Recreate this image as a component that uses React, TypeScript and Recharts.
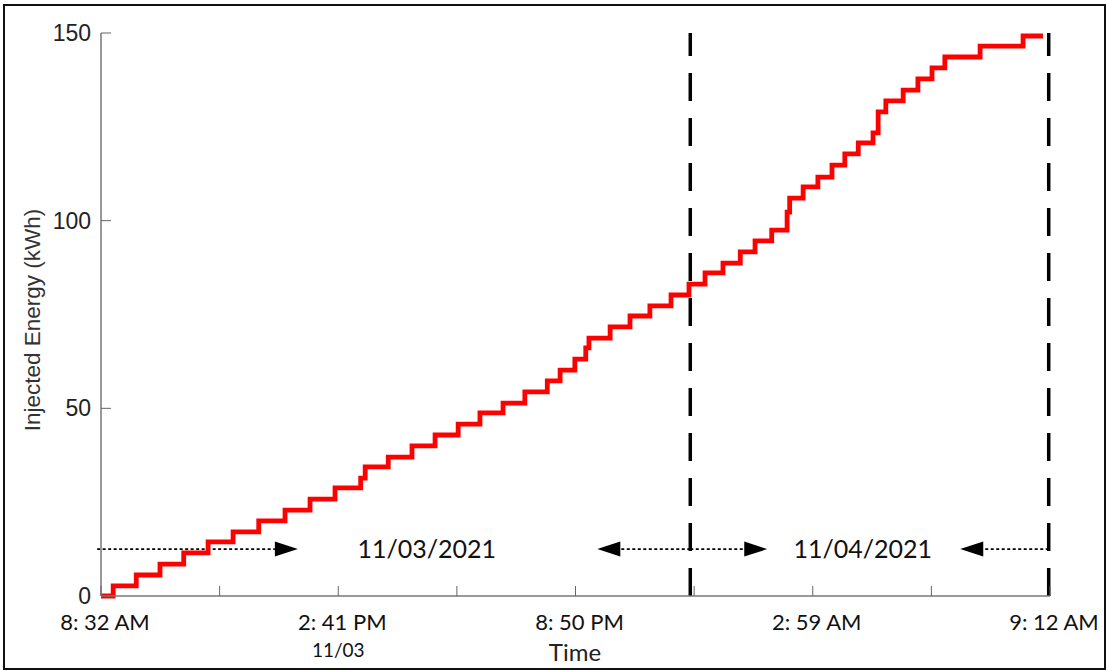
import { LineChart, Line, XAxis, YAxis, ReferenceLine, ReferenceDot } from 'recharts'

// minutes since 8:32 AM, 11/03/2021, at which the cumulative energy steps up
const stepMinutes = [
  0, 19, 55, 92, 129, 167, 206, 246, 287, 326, 365, 405, 412, 448, 485, 521, 557, 591, 627, 661,
  696, 716, 739, 756, 761, 794, 825, 856, 889, 917, 942, 970, 997, 1020, 1046, 1070, 1074, 1095,
  1118, 1140, 1160, 1181, 1204, 1212, 1224, 1251, 1274, 1296, 1316, 1371, 1438, 1469
]
// injected energy (kWh) after each step
const injectedEnergy = [
  0, 2.7, 5.6, 8.5, 11.5, 14.4, 17.1, 20.0, 22.9, 25.8, 28.8, 31.4, 34.4, 37.0, 40.0, 42.9, 45.8,
  48.8, 51.4, 54.4, 57.3, 60.2, 63.1, 66.1, 68.7, 71.7, 74.6, 77.3, 80.2, 83.1, 86.1, 88.7, 91.7,
  94.6, 97.5, 102.3, 106.0, 109.0, 111.6, 114.8, 117.8, 120.7, 123.4, 129.0, 131.9, 134.8, 137.8,
  140.7, 143.6, 146.5, 149.2, 149.2
]

const timeTicks = [0, 185, 370, 555, 740, 925, 1110, 1295, 1480]
const timeLabels = ['8: 32 AM', '', '2: 41 PM', '', '8: 50 PM', '', '2: 59 AM', '', '9: 12 AM']
const timeSubLabels = ['', '', '11/03', '', '', '', '', '', '']
const energyTicks = [0, 50, 100, 150]

// day separators and date annotations
const dayLines = [919, 1478]
const dateLabels = ['11/03/2021', '11/04/2021']
const dateLabelMinutes = [508, 1188]
const arrowLevel = 12.5
const arrowFrom = [-6, 919, 919, 1478]
const arrowTo = [307, 774, 1039, 1340]

const data = stepMinutes.map((t, i) => ({ t, energy: injectedEnergy[i] }))

const labelFont = 'Lato, "Open Sans", sans-serif'
const numFont = '"Liberation Sans", Arial, sans-serif'

function TimeTick(props: any) {
  const { x, y, payload } = props
  const i = timeTicks.indexOf(payload.value)
  return (
    <g>
      <line x1={x} y1={y} x2={x} y2={y - 10} stroke="#666" strokeWidth={1} />
      <text x={x + 4} y={y + 34} textAnchor="middle" fontFamily={labelFont} fontSize={22} fill="#111">
        {timeLabels[i]}
      </text>
      <text x={x} y={y + 61} textAnchor="middle" fontFamily={labelFont} fontSize={19} fill="#111">
        {timeSubLabels[i]}
      </text>
    </g>
  )
}

function EnergyTick(props: any) {
  const { x, y, payload } = props
  return (
    <g>
      <line x1={x} y1={y} x2={x + 10} y2={y} stroke="#666" strokeWidth={1} />
      <text x={x - 10} y={y + 8} textAnchor="end" fontFamily={numFont} fontSize={23} fill="#222">
        {payload.value}
      </text>
    </g>
  )
}

function Arrow(props: any) {
  const { x1, y1, x2 } = props
  const dir = x2 > x1 ? 1 : -1
  const base = x2 - dir * 23
  return (
    <g>
      <line x1={x1} y1={y1} x2={base} y2={y1} stroke="#000" strokeWidth={1.6} strokeDasharray="3 2.5" />
      <path d={`M${x2},${y1} L${base},${y1 - 7.5} L${base},${y1 + 7.5} Z`} fill="#000" />
    </g>
  )
}

export default function App() {
  return (
    <div style={{ position: 'absolute', left: 0, top: 0, width: 1107, height: 671, background: '#fff' }}>
      <div
        style={{
          position: 'absolute',
          left: 3,
          top: 4,
          width: 1099,
          height: 662,
          border: '2px solid #111'
        }}
      />
      <LineChart
        width={1107}
        height={671}
        data={data}
        margin={{ top: 33, right: 57, bottom: 15, left: 0 }}
        style={{ position: 'absolute', left: 0, top: 0 }}
      >
        <XAxis
          dataKey="t"
          type="number"
          domain={[0, 1480]}
          ticks={timeTicks}
          interval={0}
          height={60}
          tickSize={0}
          tickMargin={0}
          tick={<TimeTick />}
          axisLine={{ stroke: '#777', strokeWidth: 1.5 }}
          label={{
            content: () => (
              <text x={575} y={661} textAnchor="middle" fontFamily={labelFont} fontSize={24} fill="#222">
                Time
              </text>
            )
          }}
        />
        <YAxis
          type="number"
          domain={[0, 150]}
          ticks={energyTicks}
          interval={0}
          width={101}
          tickSize={0}
          tickMargin={0}
          tick={<EnergyTick />}
          axisLine={{ stroke: '#777', strokeWidth: 1.5 }}
          label={{
            content: () => (
              <text
                transform="translate(40,320) rotate(-90)"
                textAnchor="middle"
                fontFamily={numFont}
                fontSize={22.5}
                fill="#333"
              >
                Injected Energy (kWh)
              </text>
            )
          }}
        />
        {dayLines.map((m) => (
          <ReferenceLine key={m} x={m} stroke="#000" strokeWidth={3.5} strokeDasharray="28 17" ifOverflow="visible" />
        ))}
        {arrowFrom.map((f, i) => (
          <ReferenceLine
            key={'a' + i}
            segment={[
              { x: f, y: arrowLevel },
              { x: arrowTo[i], y: arrowLevel }
            ]}
            ifOverflow="visible"
            shape={Arrow}
          />
        ))}
        {dateLabels.map((d, i) => (
          <ReferenceDot
            key={d}
            x={dateLabelMinutes[i]}
            y={arrowLevel}
            ifOverflow="visible"
            shape={(p: any) => (
              <text x={p.cx} y={p.cy + 9} textAnchor="middle" fontFamily={labelFont} fontSize={25} fill="#111">
                {d}
              </text>
            )}
          />
        ))}
        <Line
          type="stepAfter"
          dataKey="energy"
          stroke="#ff0000"
          strokeWidth={4.8}
          dot={false}
          isAnimationActive={false}
        />
      </LineChart>
    </div>
  )
}
